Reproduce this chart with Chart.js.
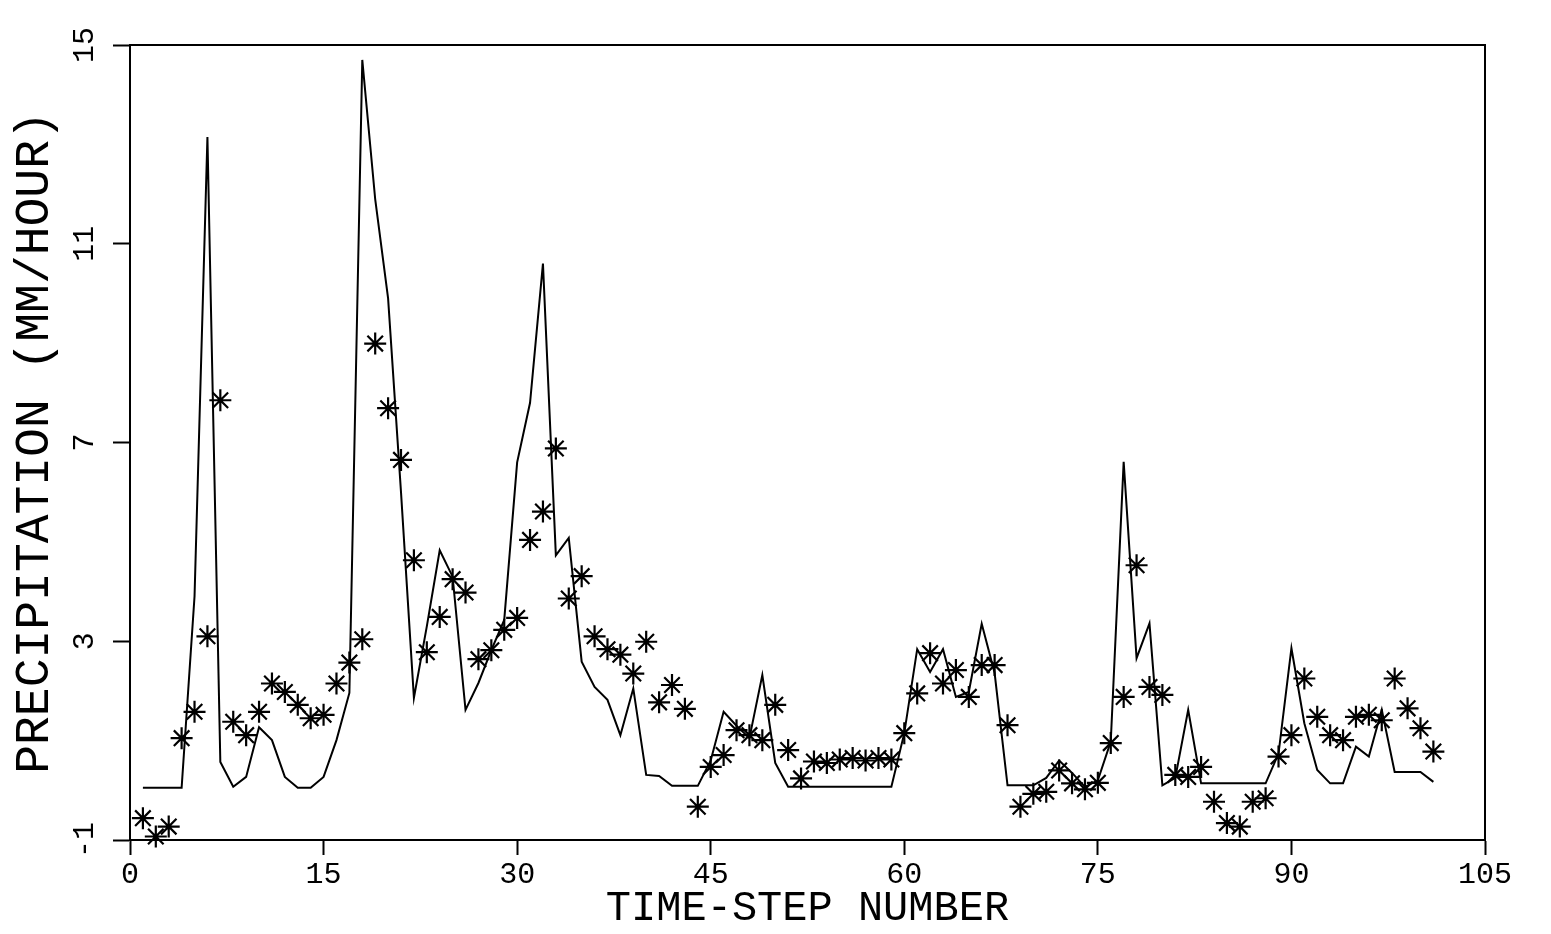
<!DOCTYPE html>
<html lang="en">
<head>
    <meta charset="UTF-8">
    <title>Precipitation by time step</title>
    <script src="https://cdn.jsdelivr.net/npm/chart.js"></script>
    <style>
        body {
            margin: 0;
            padding: 0;
            background-color: #ffffff;
            overflow: hidden;
        }

        .chart-box {
            width: 1551px;
            height: 934px;
            position: relative;
        }
    </style>
</head>
<body>

    <div class="chart-box">
        <canvas id="precipChart"></canvas>
    </div>

    <script>
        // time steps 1..101
        const steps = [
            1, 2, 3, 4, 5, 6, 7, 8, 9, 10, 11, 12, 13, 14, 15, 16, 17, 18, 19, 20,
            21, 22, 23, 24, 25, 26, 27, 28, 29, 30, 31, 32, 33, 34, 35, 36, 37, 38, 39, 40,
            41, 42, 43, 44, 45, 46, 47, 48, 49, 50, 51, 52, 53, 54, 55, 56, 57, 58, 59, 60,
            61, 62, 63, 64, 65, 66, 67, 68, 69, 70, 71, 72, 73, 74, 75, 76, 77, 78, 79, 80,
            81, 82, 83, 84, 85, 86, 87, 88, 89, 90, 91, 92, 93, 94, 95, 96, 97, 98, 99, 100, 101
        ];

        // solid line (observed)
        const observed = [
            0.05, 0.05, 0.05, 0.05, 3.9, 13.15, 0.57, 0.07, 0.27, 1.27,
            1.01, 0.27, 0.05, 0.05, 0.27, 1.01, 1.96, 14.7, 11.9, 9.9,
            6.0, 1.86, 3.3, 4.83, 4.3, 1.62, 2.16, 2.82, 3.43, 6.6,
            7.8, 10.6, 4.73, 5.08, 2.59, 2.08, 1.82, 1.11, 2.05, 0.31,
            0.29, 0.09, 0.09, 0.09, 0.6, 1.58, 1.3, 1.05, 2.32, 0.55,
            0.07, 0.07, 0.07, 0.07, 0.07, 0.07, 0.07, 0.07, 0.07, 1.15,
            2.84, 2.38, 2.84, 1.88, 1.98, 3.35, 2.36, 0.1, 0.1, 0.1,
            0.25, 0.6, 0.35, 0.07, 0.2, 0.98, 6.61, 2.66, 3.36, 0.1,
            0.25, 1.62, 0.14, 0.14, 0.14, 0.14, 0.14, 0.14, 0.74, 2.86,
            1.35, 0.41, 0.14, 0.14, 0.88, 0.68, 1.62, 0.37, 0.37, 0.37, 0.17
        ];

        // asterisks (estimated)
        const estimated = [
            -0.56, -0.93, -0.73, 1.05, 1.58, 3.10, 7.85, 1.38, 1.11, 1.58,
            2.15, 1.98, 1.72, 1.45, 1.52, 2.15, 2.57, 3.04, 8.99, 7.69,
            6.65, 4.63, 2.78, 3.49, 4.25, 3.98, 2.64, 2.82, 3.23, 3.47,
            5.04, 5.61, 6.88, 3.86, 4.31, 3.10, 2.84, 2.73, 2.35, 2.99,
            1.77, 2.12, 1.64, -0.33, 0.47, 0.71, 1.21, 1.11, 1.01, 1.72,
            0.81, 0.24, 0.58, 0.55, 0.62, 0.65, 0.60, 0.65, 0.62, 1.15,
            1.95, 2.76, 2.15, 2.42, 1.88, 2.52, 2.52, 1.31, -0.33, -0.07,
            -0.03, 0.40, 0.14, 0.02, 0.15, 0.95, 1.88, 4.53, 2.08, 1.92,
            0.31, 0.27, 0.47, -0.23, -0.66, -0.73, -0.23, -0.16, 0.68, 1.11,
            2.25, 1.48, 1.11, 1.01, 1.48, 1.52, 1.41, 2.25, 1.65, 1.25, 0.78
        ];

        const xTicks = [0, 15, 30, 45, 60, 75, 90, 105];
        const yTicks = [-1, 3, 7, 11, 15];

        const plotFont = 'Liberation Mono';

        // closes the plot box on top and right
        const frame = {
            id: 'frame',
            afterDatasetsDraw(chart) {
                const { ctx, chartArea: a } = chart;
                ctx.save();
                ctx.strokeStyle = '#000';
                ctx.lineWidth = 2;
                ctx.strokeRect(a.left, a.top, a.right - a.left, a.bottom - a.top);
                ctx.restore();
            }
        };

        new Chart(document.getElementById('precipChart').getContext('2d'), {
            type: 'scatter',
            data: {
                datasets: [
                    {
                        label: 'Observed',
                        data: steps.map((t, i) => ({ x: t, y: observed[i] })),
                        showLine: true,
                        borderColor: '#000',
                        borderWidth: 2,
                        pointRadius: 0,
                        tension: 0
                    },
                    {
                        label: 'Estimated',
                        data: steps.map((t, i) => ({ x: t, y: estimated[i] })),
                        showLine: false,
                        pointStyle: 'star',
                        pointRadius: 11,
                        borderColor: '#000',
                        borderWidth: 2.2,
                        clip: false
                    }
                ]
            },
            options: {
                responsive: true,
                maintainAspectRatio: false,
                animation: false,
                layout: { padding: { left: 0, right: 66, top: 45, bottom: 0 } },
                plugins: {
                    legend: { display: false },
                    tooltip: { enabled: false }
                },
                scales: {
                    x: {
                        type: 'linear',
                        min: 0,
                        max: 105,
                        afterBuildTicks: s => { s.ticks = xTicks.map(v => ({ value: v })); },
                        afterFit: s => { s.height = 94; },
                        grid: {
                            drawOnChartArea: false,
                            tickLength: 15,
                            tickColor: '#000',
                            tickWidth: 2
                        },
                        border: { color: '#000', width: 2 },
                        ticks: {
                            color: '#000',
                            padding: 2,
                            maxRotation: 0,
                            font: { family: plotFont, size: 30 }
                        },
                        title: {
                            display: true,
                            text: 'TIME-STEP NUMBER',
                            color: '#000',
                            padding: 0,
                            font: { family: plotFont, size: 42 }
                        }
                    },
                    y: {
                        min: -1,
                        max: 15,
                        afterBuildTicks: s => { s.ticks = yTicks.map(v => ({ value: v })); },
                        afterFit: s => { s.width = 130; },
                        grid: {
                            drawOnChartArea: false,
                            tickLength: 17,
                            tickColor: '#000',
                            tickWidth: 2
                        },
                        border: { color: '#000', width: 2 },
                        ticks: {
                            color: '#000',
                            minRotation: 90,
                            maxRotation: 90,
                            crossAlign: 'center',
                            padding: 10,
                            font: { family: plotFont, size: 30 }
                        },
                        title: {
                            display: true,
                            text: 'PRECIPITATION (MM/HOUR)',
                            color: '#000',
                            padding: { top: 6, bottom: 0 },
                            font: { family: plotFont, size: 48 }
                        }
                    }
                }
            },
            plugins: [frame]
        });
    </script>
</body>
</html>
